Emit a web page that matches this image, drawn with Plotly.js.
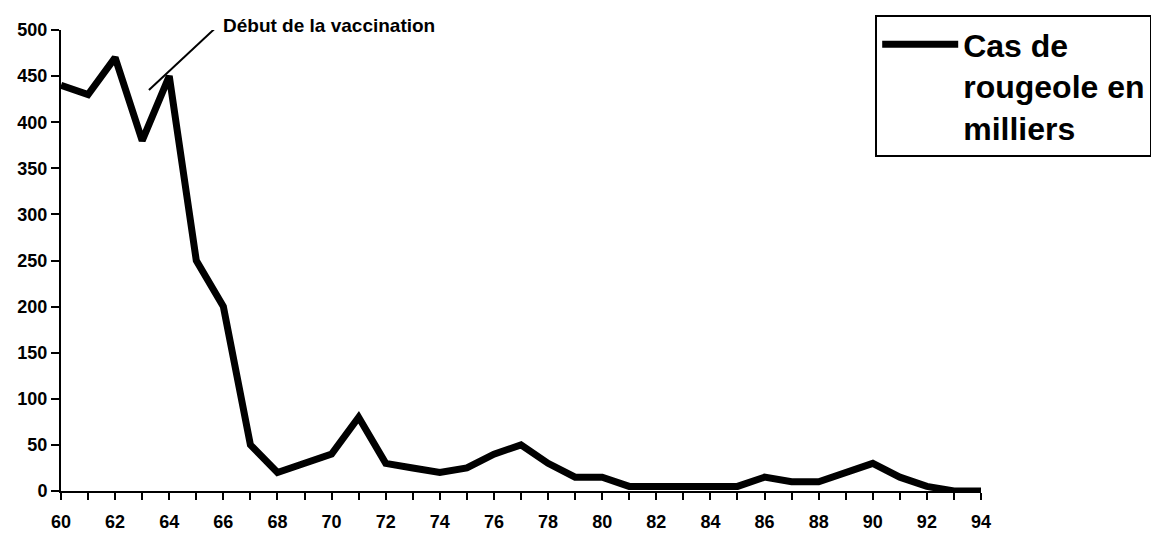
<!DOCTYPE html>
<html>
<head>
<meta charset="utf-8">
<script src="https://cdn.plot.ly/plotly-3.0.1.min.js"></script>
<style>html,body{margin:0;padding:0;background:#fff;}#chart{width:1151px;height:533px;}</style>
</head>
<body>
<div id="chart"></div>
<script>
const years = [60,61,62,63,64,65,66,67,68,69,70,71,72,73,74,75,76,77,78,79,80,81,82,83,84,85,86,87,88,89,90,91,92,93,94];
const cases = [440,430,470,380,450,250,200,50,20,30,40,80,30,25,20,25,40,50,30,15,15,5,5,5,5,5,15,10,10,20,30,15,5,0,0];
const tickYears = years.slice();
const tickLabels = years.map(y => (y % 2 === 0 ? String(y) : ''));
const seriesName = 'Cas de<br>rougeole en<br>milliers';
const noteText = 'Début de la vaccination';

const FONT = 'Liberation Sans, Arial, Helvetica, sans-serif';

const trace = {
  x: years, y: cases, type: 'scatter', mode: 'lines', name: seriesName,
  line: {color: '#000', width: 7}, cliponaxis: false, showlegend: true
};

const layout = {
  width: 1151, height: 533,
  margin: {l: 61, r: 170, t: 30, b: 42, autoexpand: false},
  paper_bgcolor: '#fff', plot_bgcolor: '#fff',
  font: {family: FONT, color: '#000', weight: 'bold'},
  showlegend: true,
  xaxis: {
    range: [60, 94], tickmode: 'array', tickvals: tickYears, ticktext: tickLabels,
    showline: true, linecolor: '#000', linewidth: 2, ticks: 'outside', ticklen: 7, tickwidth: 2, tickcolor: '#000',
    showgrid: false, zeroline: false, ticklabelstandoff: 6,
    tickfont: {family: FONT, size: 18, weight: 'bold', color: '#000'}
  },
  yaxis: {
    range: [0, 500], dtick: 50, tick0: 0,
    showline: true, linecolor: '#000', linewidth: 2, ticks: 'outside', ticklen: 8, tickwidth: 2, tickcolor: '#000',
    showgrid: false, zeroline: false,
    tickfont: {family: FONT, size: 18, weight: 'bold', color: '#000'}
  },
  legend: {
    x: 0.885, y: 1.0325, xanchor: 'left', yanchor: 'top',
    bordercolor: '#000', borderwidth: 2, bgcolor: '#fff',
    font: {family: FONT, size: 32, weight: 'bold', color: '#000'},
    itemwidth: 76, valign: 'top', entrywidth: 345
  },
  shapes: [
    {type: 'line', xref: 'x', yref: 'y', x0: 63.25, y0: 435, x1: 65.7, y1: 502, line: {color: '#000', width: 2}}
  ],
  annotations: [
    {x: 65.9, y: 1.0087, xref: 'x', yref: 'paper', text: noteText, showarrow: false, xanchor: 'left', yanchor: 'middle',
     font: {family: FONT, size: 19, weight: 'bold', color: '#000'}}
  ]
};

Plotly.newPlot('chart', [trace], layout, {displayModeBar: false, staticPlot: true});
</script>
</body>
</html>
